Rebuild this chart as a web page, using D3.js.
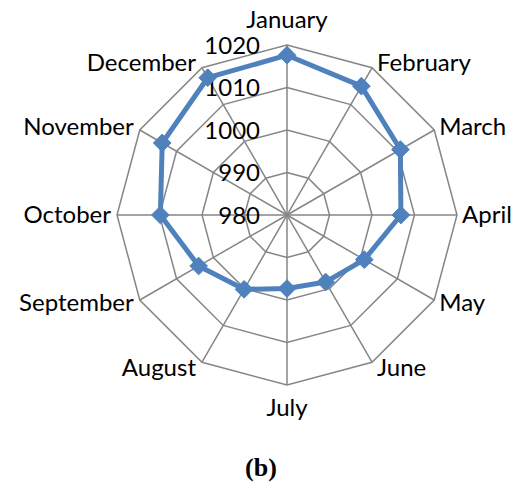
<!DOCTYPE html>
<meta charset="utf-8">
<html>
<head><title>Radar (b)</title></head>
<style>
body { margin: 0; background: #fff; }
text { font-family: Lato, "Open Sans", sans-serif; fill: #000; }
</style>
<body>
<svg id="chart" width="518" height="487"></svg>
<script src="https://d3js.org/d3.v7.min.js"></script>
<script>

// months around the radar, clockwise from the top
var months = ["January", "February", "March", "April", "May", "June",
  "July", "August", "September", "October", "November", "December"];

var values = [1017.6, 1015.0, 1010.8, 1006.8, 1001.0, 998.2,
  997.3, 1000.2, 1004.0, 1009.8, 1013.9, 1017.3];

var ticks = [980, 990, 1000, 1010, 1020];

var svg = d3.select("#chart"),
  cx = 287,
  cy = 215,
  R = 170;

var g = svg.append("g").attr("transform", "translate(" + cx + "," + cy + ")");

// scales
var r = d3.scaleLinear().domain([980, 1020]).range([0, R]);
function ang(i) { return i * 2 * Math.PI / months.length; }

function px(a, rad) { return rad * Math.sin(a); }
function py(a, rad) { return -rad * Math.cos(a); }

// grid rings (polygons)
var ring = d3.lineRadial()
  .angle(function(d, i) { return ang(i); })
  .radius(function(d) { return r(d); })
  .curve(d3.curveLinearClosed);

g.append("g")
  .selectAll("path")
  .data(ticks.slice(1))
  .enter()
  .append("path")
  .attr("d", function(t) { return ring(months.map(function() { return t; })); })
  .attr("fill", "none")
  .attr("stroke", "#868686")
  .attr("stroke-width", 1.5);

// spokes
g.append("g")
  .selectAll("line")
  .data(months)
  .enter()
  .append("line")
  .attr("x1", 0).attr("y1", 0)
  .attr("x2", function(d, i) { return px(ang(i), r(1020)); })
  .attr("y2", function(d, i) { return py(ang(i), r(1020)); })
  .attr("stroke", "#868686")
  .attr("stroke-width", 1.5);

// tick labels on the vertical axis
g.append("g")
  .selectAll("text")
  .data(ticks)
  .enter()
  .append("text")
  .attr("x", -27)
  .attr("y", function(d) { return -r(d); })
  .attr("dy", "0.36em")
  .attr("text-anchor", "end")
  .style("font-size", "24px")
  .text(function(d) { return d; });

// month labels
g.append("g")
  .selectAll("text")
  .data(months)
  .enter()
  .append("text")
  .attr("x", function(d, i) {
    var s = Math.sin(ang(i));
    var x = px(ang(i), r(1020));
    if (Math.abs(s) < 0.1) return x;
    return x + (s > 0 ? 5 : -6);
  })
  .attr("y", function(d, i) {
    var c = Math.cos(ang(i));
    var y = py(ang(i), r(1020));
    if (Math.abs(Math.sin(ang(i))) < 0.1) return y + (c > 0 ? -25 : 23);
    return y - c * 6;
  })
  .attr("dy", "0.35em")
  .attr("text-anchor", function(d, i) {
    var s = Math.sin(ang(i));
    if (Math.abs(s) < 0.1) return "middle";
    return s > 0 ? "start" : "end";
  })
  .style("font-size", "24px")
  .text(function(d) { return d; });

// the series
var line = d3.lineRadial()
  .angle(function(d, i) { return ang(i); })
  .radius(function(d) { return r(d); })
  .curve(d3.curveLinearClosed);

g.append("path")
  .datum(values)
  .attr("d", line)
  .attr("fill", "none")
  .attr("stroke", "#4f81bd")
  .attr("stroke-width", 5)
  .attr("stroke-linejoin", "round");

g.append("g")
  .selectAll("path")
  .data(values)
  .enter()
  .append("path")
  .attr("d", d3.symbol().type(d3.symbolDiamond2).size(200))
  .attr("transform", function(d, i) {
    return "translate(" + px(ang(i), r(d)) + "," + py(ang(i), r(d)) + ")";
  })
  .attr("fill", "#4f81bd")
  .attr("stroke", "#4f81bd")
  .attr("stroke-width", 1);

// caption
svg.append("text")
  .attr("x", 261)
  .attr("y", 476)
  .attr("text-anchor", "middle")
  .style("font-family", "'Liberation Serif', 'DejaVu Serif', serif")
  .style("font-weight", "bold")
  .style("font-size", "26px")
  .text("(b)");

</script>
</body>
</html>
